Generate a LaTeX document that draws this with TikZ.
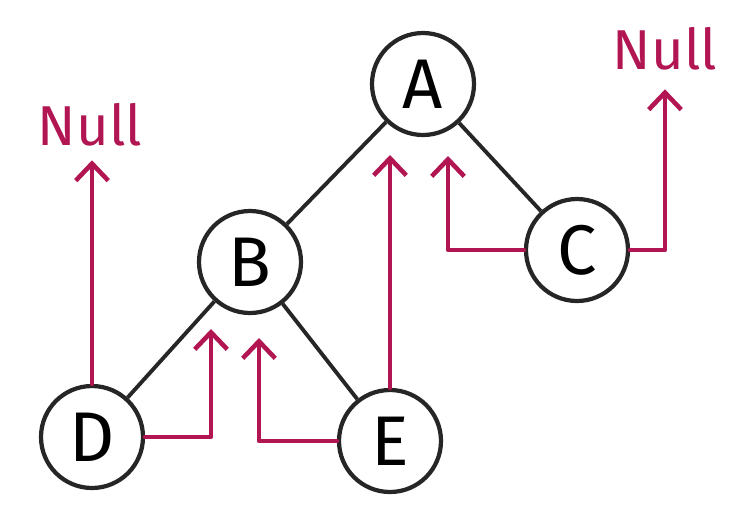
\documentclass[tikz,border=0pt]{standalone}
\usepackage{xcolor}
\usepackage{fontspec}
\setmainfont{Fira Sans}
\usepackage{tikz}
\usetikzlibrary{arrows.meta,positioning,calc}

\definecolor{threadred}{RGB}{178,22,82}

\begin{document}
\begin{tikzpicture}[
  treenode/.style={draw=black!85, line width=2.4pt, circle, minimum size=2.04cm, inner sep=0pt, font=\fontsize{40}{44}\selectfont},
  edge/.style={draw=black!85, line width=2.2pt},
  thread/.style={draw=threadred, line width=2.6pt, line cap=round, line join=round, -{Straight Barb[length=3.4mm, width=6.5mm, line width=2.6pt]}},
  nulltext/.style={text=threadred, font=\fontsize{32}{36}\selectfont, inner sep=2pt}
]
\useasboundingbox (0,0) rectangle (15.12,-10.38);

% Tree nodes.
\node[treenode] (A) at (8.46,-1.68) {A};
\node[treenode] (B) at (5.00,-5.24) {B};
\node[treenode] (C) at (11.54,-5.00) {C};
\node[treenode] (D) at (1.84,-8.74) {D};
\node[treenode] (E) at (7.80,-8.82) {E};

% Null markers.
\node[nulltext] (nullL) at (1.80,-2.50) {Null};
\node[nulltext] (nullR) at (13.30,-0.98) {Null};

% Child links.
\draw[edge] (A) -- (B);
\draw[edge] (A) -- (C);
\draw[edge] (B) -- (D);
\draw[edge] (B) -- (E);

% Thread tips.
\coordinate (tipDB) at (4.22,-6.58);
\coordinate (tipEB) at (5.18,-6.76);
\coordinate (tipEA) at (7.90,-3.10);
\coordinate (tipCA) at (8.96,-3.12);

% Threads.
\draw[thread] (D.north) -- ($(D.north |- nullL.south)+(0,-0.2)$);
\draw[thread] (D.east) -| (tipDB);
\draw[thread] (E.west) -| (tipEB);
\draw[thread] (E.north) -- (E.north |- tipEA);
\draw[thread] (C.west) -| (tipCA);
\draw[thread] (C.east) -| ($(nullR.south)+(0,-0.3)$);
\end{tikzpicture}
\end{document}
